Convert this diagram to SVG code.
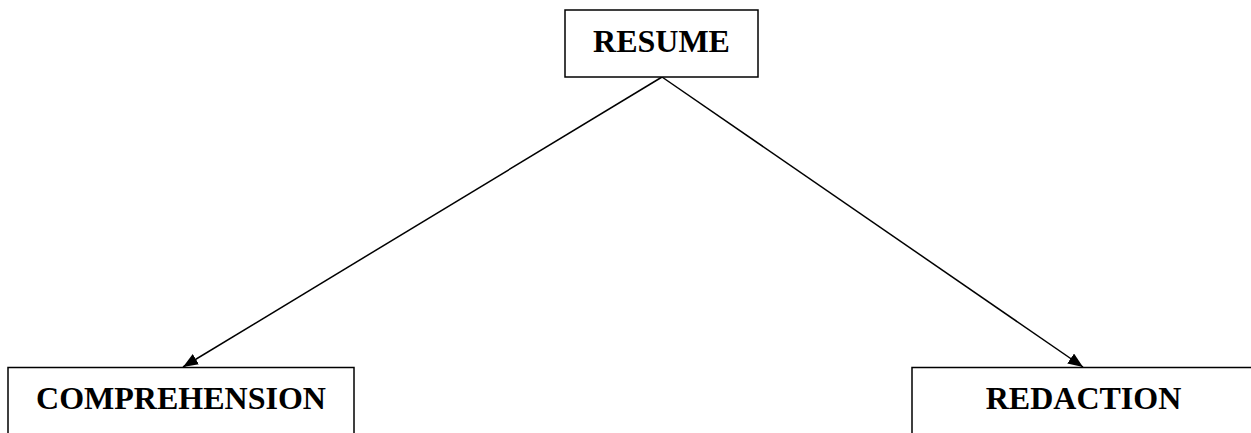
<svg xmlns="http://www.w3.org/2000/svg" width="1251" height="433" viewBox="0 0 1251 433">
<style>
.box{fill:#fff;stroke:#000;stroke-width:1.5}
.lbl{font-family:"Liberation Serif","Times New Roman",serif;font-weight:bold;font-size:32px;text-anchor:middle;fill:#000}
.edge{stroke:#000;stroke-width:1.5;fill:none}
</style>
<defs>
<marker id="arr" markerUnits="userSpaceOnUse" markerWidth="16" markerHeight="12" refX="15" refY="6" orient="auto">
<path d="M0,0 L15,6 L0,12 Z" fill="#000"/>
</marker>
</defs>
<rect width="1251" height="433" fill="#fff"/>
<g id="connectors">
<line class="edge" x1="662" y1="77" x2="183" y2="367" marker-end="url(#arr)"/>
<line class="edge" x1="662" y1="77" x2="1083" y2="367" marker-end="url(#arr)"/>
</g>
<g id="node-resume">
<rect class="box" x="565" y="10" width="193" height="67"/>
<text class="lbl" x="661.5" y="52">RESUME</text>
</g>
<g id="node-comprehension">
<rect class="box" x="8" y="367.5" width="346" height="80"/>
<text class="lbl" x="181" y="408.5">COMPREHENSION</text>
</g>
<g id="node-redaction">
<rect class="box" x="912" y="367.5" width="344" height="80"/>
<text class="lbl" x="1083.5" y="408.5">REDACTION</text>
</g>
</svg>
